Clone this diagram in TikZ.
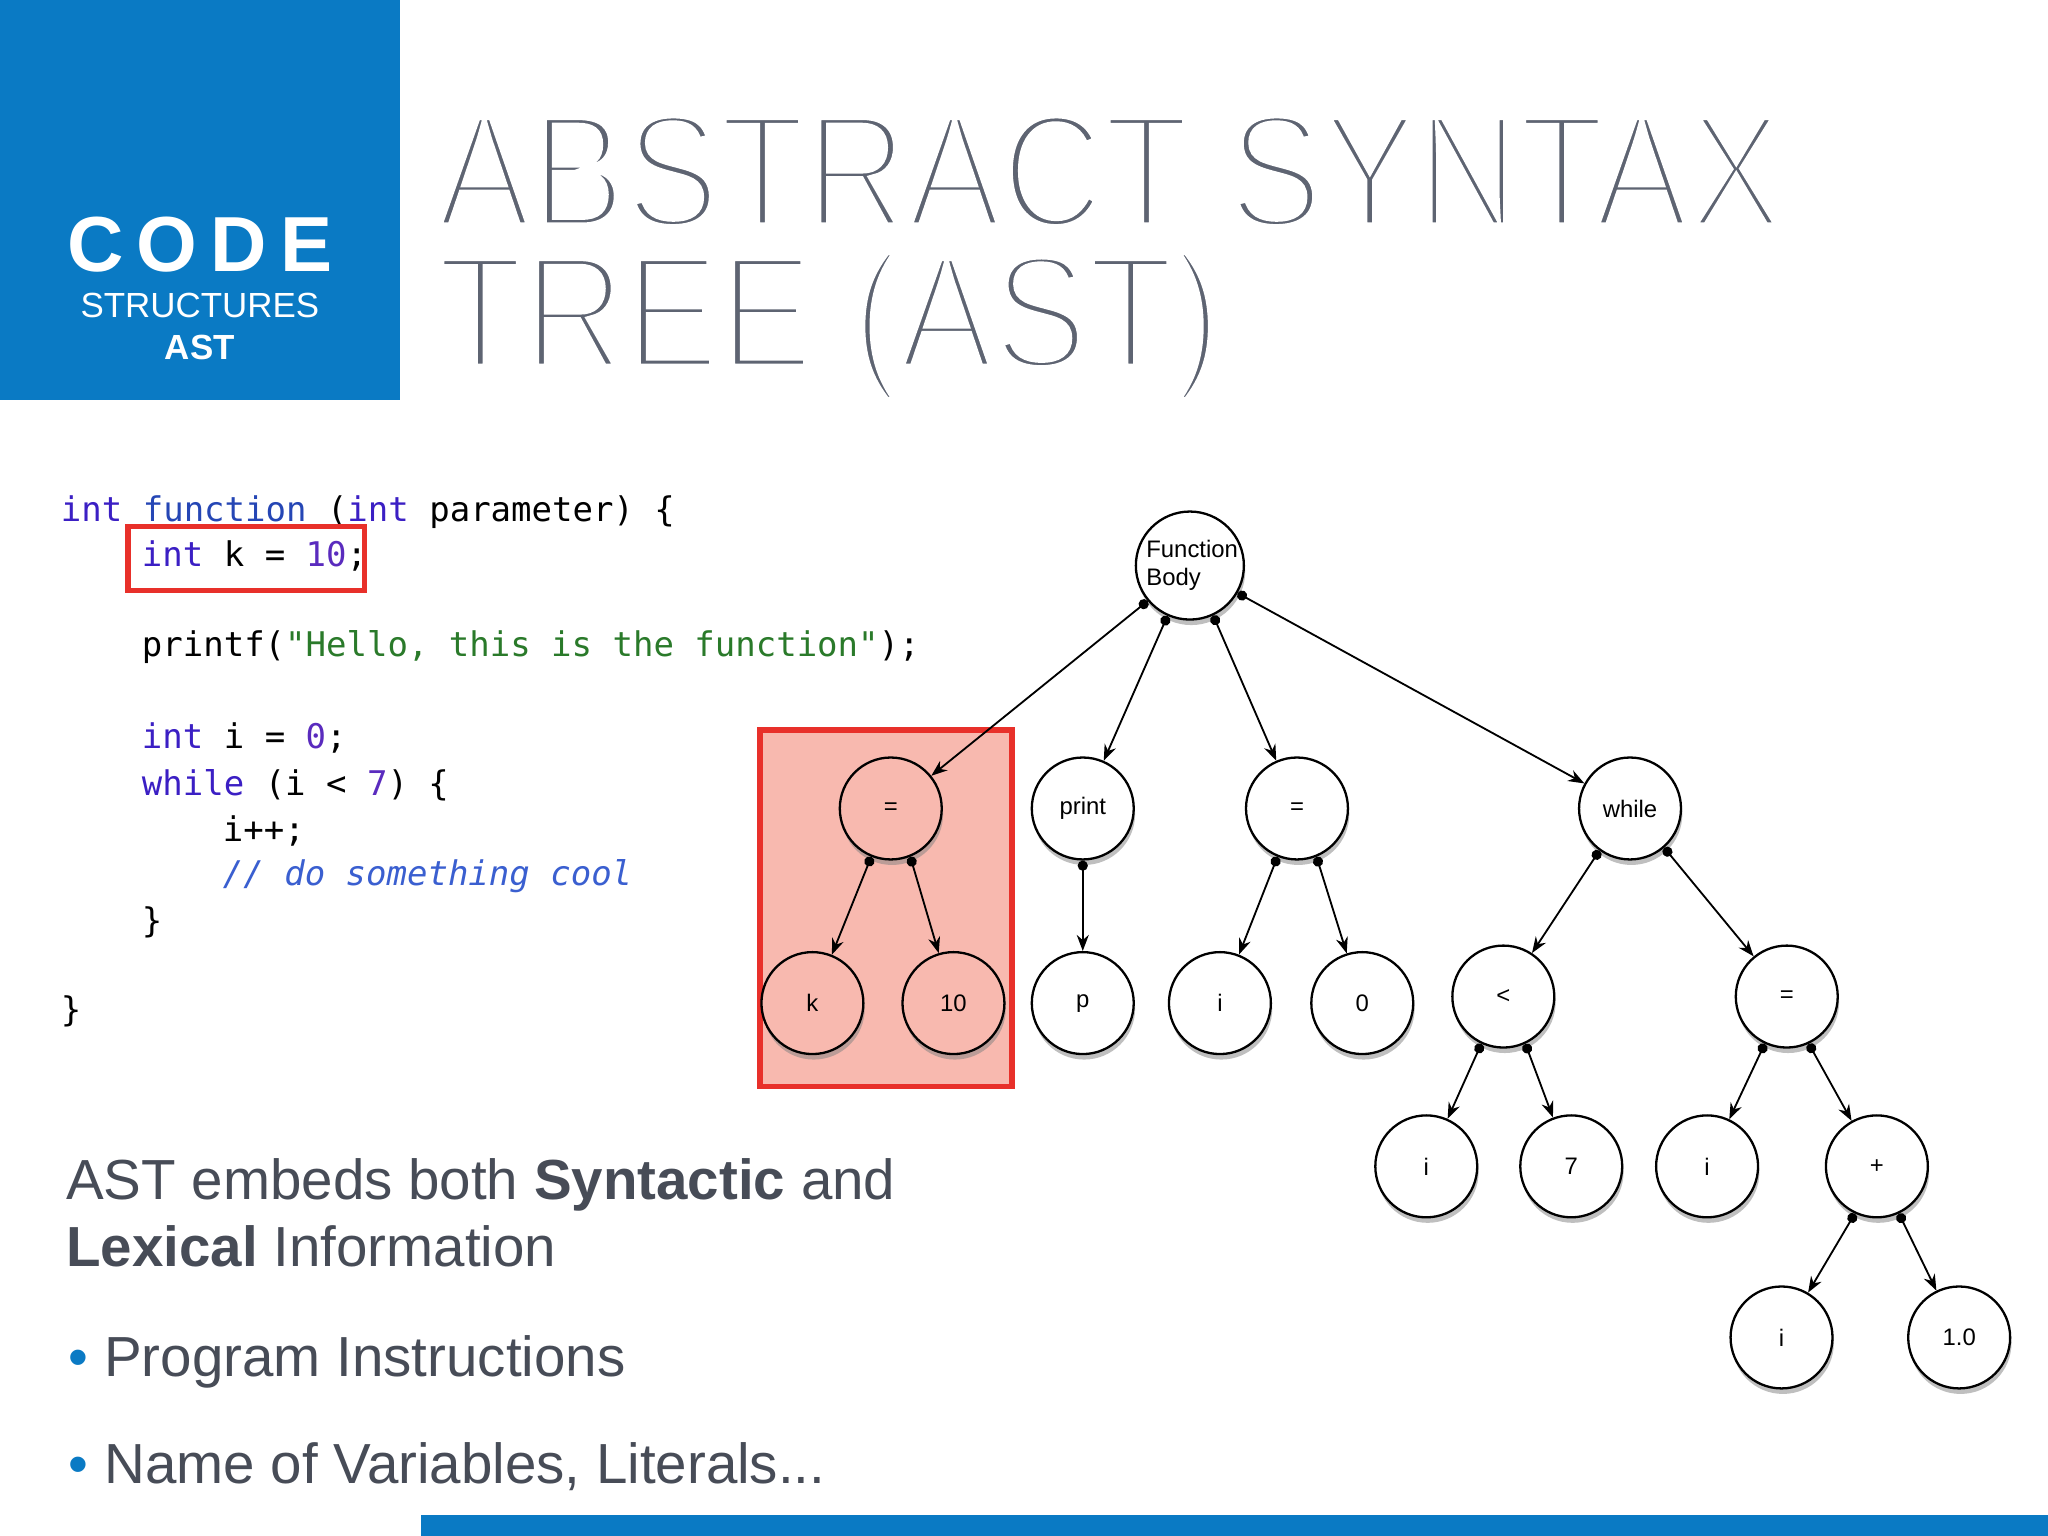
\documentclass[tikz,border=0pt]{standalone}
\usepackage{fontspec}
\usepackage{graphicx}
\setmainfont{Liberation Sans}
\newfontfamily\titlefont{Liberation Sans}
\newfontfamily\codefont{DejaVu Sans Mono}
\usetikzlibrary{shadows,arrows.meta}
\definecolor{kblue}{HTML}{0A7AC4}
\definecolor{ttl}{HTML}{5E6472}
\definecolor{kw}{HTML}{3B1FC4}
\definecolor{fn}{HTML}{2546B5}
\definecolor{num}{HTML}{5A2BBE}
\definecolor{str}{HTML}{2A7A2A}
\definecolor{cm}{HTML}{3A5FD0}
\definecolor{redb}{HTML}{E8302A}
\definecolor{pink}{HTML}{F8B9AF}
\definecolor{body}{HTML}{474C57}
\newcommand\thinon{\special{pdf:literal direct 2 Tr 1 1 1 RG 1.9 w}}
\newcommand\thinoff{\special{pdf:literal direct 0 Tr}}
\tikzset{
 tn/.style={circle,draw=black,line width=0.5pt,fill=white,minimum size=0.78cm,inner sep=0pt,font=\fontsize{5.2}{6}\selectfont,drop shadow={shadow xshift=0.3pt,shadow yshift=-1.2pt,opacity=0.5}},
 pn/.style={tn,fill=pink},
 edge/.style={line width=0.4pt,{Circle[length=2.2pt]}-{Stealth[length=3.5pt]}},
 code/.style={anchor=base west,inner sep=0pt,font=\codefont\fontsize{7.4}{9}\selectfont},
 txt/.style={anchor=base west,inner sep=0pt,text=body,font=\fontsize{12.3}{14}\selectfont},
 ttlstyle/.style={anchor=base west,inner sep=0pt,text=ttl,font=\titlefont\fontsize{32.5}{34}\selectfont},
}
\begin{document}
\begin{tikzpicture}[x=0.01cm,y=-0.01cm]
\useasboundingbox (0,0) rectangle (1568,1176);
\fill[white] (0,0) rectangle (1568,1176);
\fill[kblue] (0,0) rectangle (306,306);
\node[text=white,font=\bfseries\fontsize{17}{18}\selectfont] (code) at (153,187) {C\,O\,D\,E};
\node[text=white,font=\fontsize{7.6}{9}\selectfont] (str) at (153,234) {STRUCTURES};
\node[text=white,font=\bfseries\fontsize{7.6}{9}\selectfont] (ast) at (153,266) {AST};
\node[ttlstyle] (t1) at (334,174) {\scalebox{0.945}[1.09]{\thinon ABSTRACT SYNTAX\thinoff}};
\node[ttlstyle] (t2) at (334,282) {\scalebox{0.945}[1.09]{\thinon TREE (AST)\thinoff}};
% code
\node[code] (c1) at (46,399) {\textcolor{kw}{int} \textcolor{fn}{\underline{function}} (\textcolor{kw}{int} parameter) \{};
\node[code] (c2) at (108,434) {\textcolor{kw}{int} k = \textcolor{num}{10};};
\node[code] (c3) at (108,503) {printf(\textcolor{str}{"Hello, this is the function"});};
\node[code] (c4) at (108,573) {\textcolor{kw}{int} i = \textcolor{num}{0};};
\node[code] (c5) at (108,609) {\textcolor{kw}{while} (i < \textcolor{num}{7}) \{};
\node[code] (c6) at (170,644) {i++;};
\node[code] (c7) at (170,678) {\textcolor{cm}{\itshape // do something cool}};
\node[code] (c8) at (108,714) {\}};
\node[code] (c9) at (46,782) {\}};
\draw[redb,line width=1.2pt] (98,403) rectangle (279,452);
% pink box
\draw[redb,fill=pink,line width=1.2pt] (582,559) rectangle (775,832);
% tree
\node[tn,align=left] (fb) at (911,433) {\hspace*{1pt}Function\\\hspace*{1pt}Body};
\node[pn] (e1) at (682,619) {=};
\node[tn] (pr) at (829,619) {print};
\node[tn] (e2) at (993,619) {=};
\node[tn] (wh) at (1248,619) {while};
\node[pn] (k) at (622,768) {k};
\node[pn] (ten) at (730,768) {10};
\node[tn] (p) at (829,768) {p};
\node[tn] (i1) at (934,768) {i};
\node[tn] (z) at (1043,768) {0};
\node[tn] (lt) at (1151,763) {<};
\node[tn] (e3) at (1368,763) {=};
\node[tn] (i2) at (1092,893) {i};
\node[tn] (sv) at (1203,893) {7};
\node[tn] (i3) at (1307,893) {i};
\node[tn] (pl) at (1437,893) {+};
\node[tn] (i4) at (1364,1024) {i};
\node[tn] (one) at (1500,1024) {1.0};
\draw[edge] (fb.220) -- (e1);
\draw[edge] (fb.246) -- (pr);
\draw[edge] (fb.295) -- (e2);
\draw[edge] (fb.330) -- (wh);
\draw[edge] (e1.248) -- (k);
\draw[edge] (e1.292) -- (ten);
\draw[edge] (pr.270) -- (p);
\draw[edge] (e2.248) -- (i1);
\draw[edge] (e2.292) -- (z);
\draw[edge] (wh.234) -- (lt);
\draw[edge] (wh.311) -- (e3);
\draw[edge] (lt.245) -- (i2);
\draw[edge] (lt.295) -- (sv);
\draw[edge] (e3.245) -- (i3);
\draw[edge] (e3.295) -- (pl);
\draw[edge] (pl.245) -- (i4);
\draw[edge] (pl.295) -- (one);
% text
\node[txt] (l1) at (50,918) {AST embeds both \textbf{Syntactic} and};
\node[txt] (l2) at (50,970) {\textbf{Lexical} Information};
\node[txt] (b1) at (52,1054) {\textcolor{kblue}{\textbullet}\hspace{0.12cm}Program Instructions};
\node[txt] (b2) at (52,1136) {\textcolor{kblue}{\textbullet}\hspace{0.12cm}Name of Variables, Literals...};
\fill[kblue] (322,1160) rectangle (1568,1176);
\end{tikzpicture}
\end{document}
